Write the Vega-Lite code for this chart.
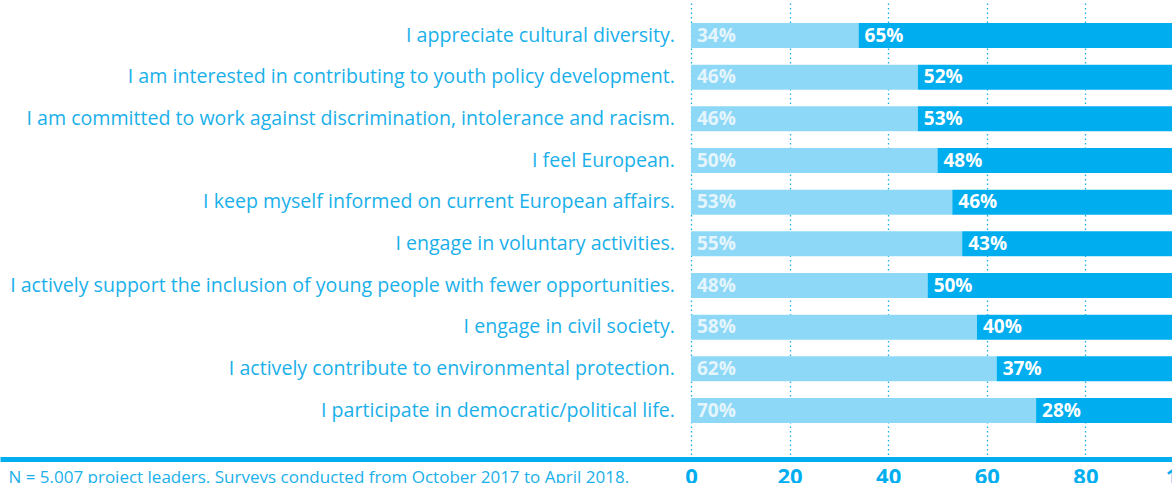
{
  "$schema": "https://vega.github.io/schema/vega-lite/v6.json",
  "width": 1184,
  "height": 459,
  "padding": {"left": 0, "top": 0, "right": 0, "bottom": 40},
  "autosize": {"type": "none"},
  "background": "white",
  "config": {"view": {"stroke": null}, "font": "Open Sans"},
  "data": {
    "values": [
      {"statement": "I appreciate cultural diversity.", "series": "a", "rank": 1, "value": 34},
      {"statement": "I appreciate cultural diversity.", "series": "b", "rank": 2, "value": 65},
      {"statement": "I am interested in contributing to youth policy development.", "series": "a", "rank": 1, "value": 46},
      {"statement": "I am interested in contributing to youth policy development.", "series": "b", "rank": 2, "value": 52},
      {"statement": "I am committed to work against discrimination, intolerance and racism.", "series": "a", "rank": 1, "value": 46},
      {"statement": "I am committed to work against discrimination, intolerance and racism.", "series": "b", "rank": 2, "value": 53},
      {"statement": "I feel European.", "series": "a", "rank": 1, "value": 50},
      {"statement": "I feel European.", "series": "b", "rank": 2, "value": 48},
      {"statement": "I keep myself informed on current European affairs.", "series": "a", "rank": 1, "value": 53},
      {"statement": "I keep myself informed on current European affairs.", "series": "b", "rank": 2, "value": 46},
      {"statement": "I engage in voluntary activities.", "series": "a", "rank": 1, "value": 55},
      {"statement": "I engage in voluntary activities.", "series": "b", "rank": 2, "value": 43},
      {"statement": "I actively support the inclusion of young people with fewer opportunities.", "series": "a", "rank": 1, "value": 48},
      {"statement": "I actively support the inclusion of young people with fewer opportunities.", "series": "b", "rank": 2, "value": 50},
      {"statement": "I engage in civil society.", "series": "a", "rank": 1, "value": 58},
      {"statement": "I engage in civil society.", "series": "b", "rank": 2, "value": 40},
      {"statement": "I actively contribute to environmental protection.", "series": "a", "rank": 1, "value": 62},
      {"statement": "I actively contribute to environmental protection.", "series": "b", "rank": 2, "value": 37},
      {"statement": "I participate in democratic/political life.", "series": "a", "rank": 1, "value": 70},
      {"statement": "I participate in democratic/political life.", "series": "b", "rank": 2, "value": 28}
    ]
  },
  "transform": [
    {"stack": "value", "groupby": ["statement"], "sort": [{"field": "rank", "order": "ascending"}], "as": ["x0", "x1"]},
    {"calculate": "datum.value + '%'", "as": "label"}
  ],
  "encoding": {
    "y": {
      "field": "statement",
      "type": "nominal",
      "sort": [
        "I appreciate cultural diversity.",
        "I am interested in contributing to youth policy development.",
        "I am committed to work against discrimination, intolerance and racism.",
        "I feel European.",
        "I keep myself informed on current European affairs.",
        "I engage in voluntary activities.",
        "I actively support the inclusion of young people with fewer opportunities.",
        "I engage in civil society.",
        "I actively contribute to environmental protection.",
        "I participate in democratic/political life."
      ],
      "scale": {"paddingInner": 0.4, "paddingOuter": 0.708, "align": 0.39},
      "axis": null
    }
  },
  "layer": [
    {
      "mark": {"type": "bar"},
      "encoding": {
        "x": {
          "field": "x0",
          "type": "quantitative",
          "scale": {"domain": [-140.16, 100], "nice": false, "zero": false},
          "axis": {
            "values": [0, 20, 40, 60, 80, 100],
            "orient": "bottom",
            "ticks": false,
            "domain": true,
            "domainColor": "#00aeef",
            "domainWidth": 5,
            "labelFontSize": 22,
            "labelFontWeight": "bold",
            "labelColor": "#00aeef",
            "labelPadding": 7,
            "labelFlush": false,
            "labelOverlap": false,
            "labelBound": false,
            "labelFont": "Open Sans",
            "grid": true,
            "gridColor": "#1ab0ea",
            "gridDash": [1.5, 3],
            "gridWidth": 1.3,
            "title": "N = 5,007 project leaders. Surveys conducted from October 2017 to April 2018.",
            "titleFont": "Open Sans",
            "titleFontSize": 17,
            "titleFontWeight": "normal",
            "titleColor": "#1ab0ea",
            "titleAnchor": "start",
            "titleAlign": "left",
            "titleBaseline": "top",
            "titleX": 8,
            "titleY": 10
          }
        },
        "x2": {"field": "x1"},
        "color": {
          "field": "series",
          "type": "nominal",
          "scale": {"domain": ["a", "b"], "range": ["#8ed8f7", "#00aeef"]},
          "legend": null
        }
      }
    },
    {
      "mark": {"type": "text", "align": "left", "baseline": "middle", "dx": 6, "fontSize": 19, "fontWeight": "bold", "font": "Open Sans"},
      "encoding": {
        "x": {"field": "x0", "type": "quantitative"},
        "text": {"field": "label"},
        "fill": {"condition": {"test": "datum.series == 'a'", "value": "#e4f5fd"}, "value": "#ffffff"}
      }
    },
    {
      "transform": [{"filter": "datum.series == 'a'"}],
      "mark": {"type": "text", "align": "right", "baseline": "middle", "dx": -16, "fontSize": 19.6, "font": "Open Sans", "color": "#1ab0ea"},
      "encoding": {
        "x": {"datum": 0, "type": "quantitative"},
        "text": {"field": "statement"}
      }
    }
  ]
}
